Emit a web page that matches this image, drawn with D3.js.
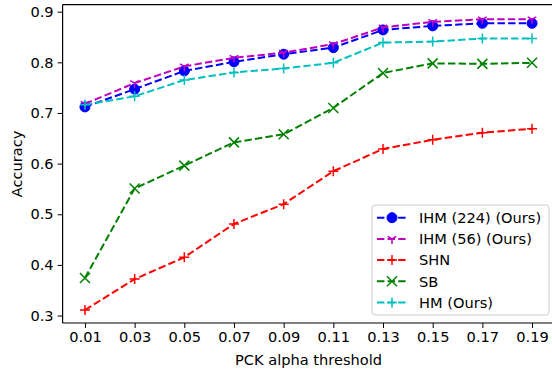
<!DOCTYPE html>
<html>
<head>
<meta charset="utf-8">
<script src="https://cdn.jsdelivr.net/npm/d3@7"></script>
<style>
  body { margin: 0; background: #fff; }
  svg { display: block; font-family: "DejaVu Sans", sans-serif; }
</style>
</head>
<body>
<div id="chart"></div>
<script>
// PCK alpha thresholds
const thresholds = [0.01, 0.03, 0.05, 0.07, 0.09, 0.11, 0.13, 0.15, 0.17, 0.19];
const yTicks = [0.3, 0.4, 0.5, 0.6, 0.7, 0.8, 0.9];

const ihm224 = [0.712, 0.747, 0.783, 0.801, 0.816, 0.829, 0.864, 0.872, 0.877, 0.877];
const ihm56  = [0.718, 0.759, 0.792, 0.809, 0.819, 0.836, 0.869, 0.880, 0.885, 0.885];
const shn    = [0.311, 0.372, 0.415, 0.481, 0.520, 0.585, 0.629, 0.647, 0.661, 0.669];
const sb     = [0.374, 0.551, 0.596, 0.642, 0.658, 0.710, 0.779, 0.798, 0.797, 0.799];
const hm     = [0.716, 0.733, 0.765, 0.780, 0.788, 0.799, 0.839, 0.841, 0.847, 0.847];

const seriesNames = ['IHM (224) (Ours)', 'IHM (56) (Ours)', 'SHN', 'SB', 'HM (Ours)'];
const seriesValues = [ihm224, ihm56, shn, sb, hm];
const seriesColors = ['#0000ff', '#bf00bf', '#ff0000', '#008000', '#00bfbf'];
const seriesMarkers = ['circle', 'tri', 'plus', 'cross', 'plus'];

const width = 552, height = 370;
const fs = 14.6;
const svg = d3.select('#chart').append('svg').attr('width', width).attr('height', height);

const x = d3.scaleLinear().domain([0.001, 0.199]).range([62.6, 554.4]);
const y = d3.scaleLinear().domain([0.2853, 0.9138]).range([323, 4.7]);

// markers
function drawMarker(g, type, color) {
  if (type === 'circle') {
    g.append('circle').attr('r', 5).attr('fill', color).attr('stroke', color).attr('stroke-width', 1);
  } else if (type === 'plus') {
    g.append('path').attr('d', 'M-5,0H5M0,-5V5').attr('stroke', color).attr('stroke-width', 1.5).attr('fill', 'none');
  } else if (type === 'cross') {
    g.append('path').attr('d', 'M-5,-5L5,5M-5,5L5,-5').attr('stroke', color).attr('stroke-width', 1.5).attr('fill', 'none');
  } else if (type === 'tri') {
    g.append('path').attr('d', 'M0,0V5M0,0L-4.3,-2.5M0,0L4.3,-2.5').attr('stroke', color).attr('stroke-width', 1.5).attr('fill', 'none');
  }
}

const plot = svg.append('g');
const line = d3.line().x((d, i) => x(thresholds[i])).y(d => y(d));

seriesValues.forEach((vals, si) => {
  const g = plot.append('g');
  g.append('path').datum(vals).attr('d', line)
    .attr('fill', 'none').attr('stroke', seriesColors[si])
    .attr('stroke-width', 2).attr('stroke-dasharray', '7.4,3.2');
  vals.forEach((v, i) => {
    const m = g.append('g').attr('transform', `translate(${x(thresholds[i])},${y(v)})`);
    drawMarker(m, seriesMarkers[si], seriesColors[si]);
  });
});

// axes
const xAxis = svg.append('g').attr('transform', 'translate(0,323)')
  .call(d3.axisBottom(x).tickValues(thresholds).tickFormat(d3.format('.2f')).tickSize(5).tickPadding(4));
const yAxis = svg.append('g').attr('transform', 'translate(62.6,0)')
  .call(d3.axisLeft(y).tickValues(yTicks).tickFormat(d3.format('.1f')).tickSize(5).tickPadding(4));
[xAxis, yAxis].forEach(a => {
  a.selectAll('text').attr('font-size', fs).attr('fill', '#000').attr('font-family', '"DejaVu Sans", sans-serif');
  a.selectAll('line').attr('stroke', '#000').attr('stroke-width', 1);
  a.select('.domain').remove();
});

// spines
svg.append('line').attr('x1', 62.6).attr('x2', 62.6).attr('y1', 4.7).attr('y2', 323).attr('stroke', '#000').attr('stroke-width', 1.2);
svg.append('line').attr('x1', 62.6).attr('x2', 554.4).attr('y1', 323).attr('y2', 323).attr('stroke', '#000').attr('stroke-width', 1.2);
svg.append('line').attr('x1', 62.6).attr('x2', 554.4).attr('y1', 4.7).attr('y2', 4.7).attr('stroke', '#000').attr('stroke-width', 1.2);

// axis labels
svg.append('text').attr('x', 308.5).attr('y', 365).attr('text-anchor', 'middle')
  .attr('font-size', fs).text('PCK alpha threshold');
svg.append('text').attr('transform', 'translate(22,164) rotate(-90)').attr('text-anchor', 'middle')
  .attr('font-size', fs).text('Accuracy');

// legend
const legend = svg.append('g').attr('transform', 'translate(372,205)');
legend.append('rect').attr('width', 177).attr('height', 110).attr('rx', 3)
  .attr('fill', '#fff').attr('fill-opacity', 0.8).attr('stroke', '#cccccc').attr('stroke-width', 1);
seriesNames.forEach((name, i) => {
  const row = legend.append('g').attr('transform', `translate(0,${12.7 + i * 21.2})`);
  row.append('line').attr('x1', 5).attr('x2', 35).attr('stroke', seriesColors[i])
    .attr('stroke-width', 2).attr('stroke-dasharray', '7.4,3.2');
  drawMarker(row.append('g').attr('transform', 'translate(20,0)'), seriesMarkers[i], seriesColors[i]);
  row.append('text').attr('x', 47).attr('y', 5.3).attr('font-size', fs).text(name);
});
</script>
</body>
</html>
